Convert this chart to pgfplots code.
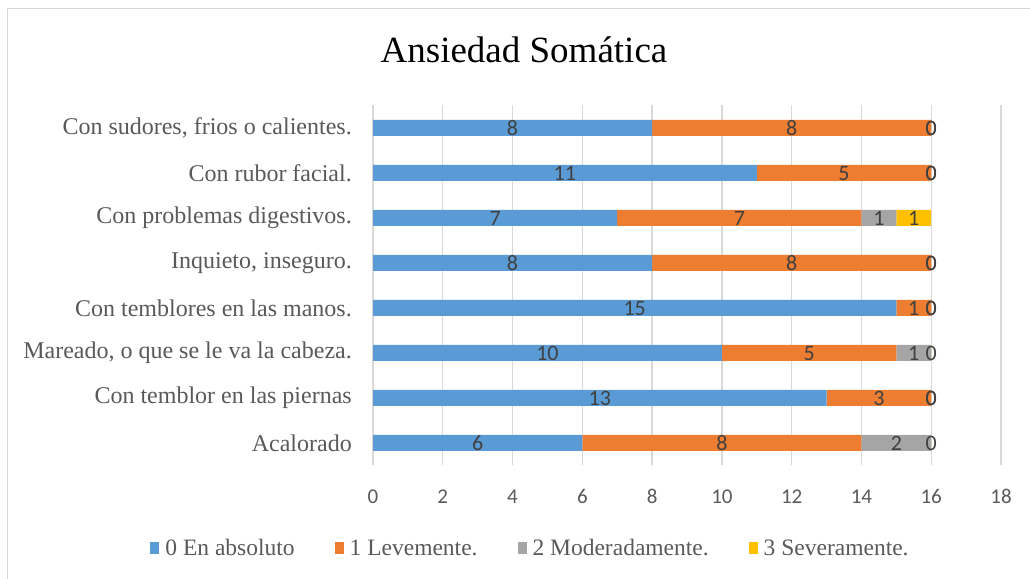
\documentclass[border=0pt]{standalone}
\usepackage{pgfplots}
\pgfplotsset{compat=1.18}
\usepackage{pgfplotstable}
\usepackage{fontspec}
\setmainfont{Liberation Serif}
\newfontfamily\calibri{Carlito}
\definecolor{cBlue}{HTML}{5B9BD5}
\definecolor{cOrange}{HTML}{ED7D31}
\definecolor{cGray}{HTML}{A5A5A5}
\definecolor{cYellow}{HTML}{FFC000}
\definecolor{gridc}{HTML}{D9D9D9}
\definecolor{txt}{HTML}{595959}
\definecolor{lbl}{HTML}{404040}

\pgfplotstableread{
y a b c d
0 6 8 2 0
1 13 3 0 0
2 10 5 1 0
3 15 1 0 0
4 8 8 0 0
5 7 7 1 1
6 11 5 0 0
7 8 8 0 0
}\data

\begin{document}
\begin{tikzpicture}[x=1bp,y=1bp]
\useasboundingbox (0,0) rectangle (1030,579);
\begin{scope}
\clip (0,0) rectangle (1030,579);
\draw[gridc, line width=1bp] (7,570) rectangle (1040,-10);
\end{scope}
\node[anchor=base, font=\fontsize{37bp}{40bp}\selectfont, text=black] at (524,516) {Ansiedad Somática};
\begin{axis}[
  at={(373bp,113.5bp)}, anchor=south west,
  scale only axis, width=628bp, height=360bp,
  xbar stacked, bar width=16bp,
  stacked ignores zero=false,
  xmin=0, xmax=18, ymin=-0.5, ymax=7.5,
  xtick={0,2,...,18},
  ytick={0,...,7},
  yticklabels={Acalorado, Con temblor en las piernas, {Mareado, o que se le va la cabeza.}, Con temblores en las manos., {Inquieto, inseguro.}, Con problemas digestivos., Con rubor facial., {Con sudores, frios o calientes.}},
  axis line style={draw=none},
  major tick length=0pt,
  xmajorgrids, major grid style={gridc, line width=1.3bp},
  /pgf/number format/assume math mode=true,
  xticklabel style={font=\calibri\fontsize{21bp}{24bp}\selectfont, text=txt, anchor=base, inner sep=0pt, yshift=-38.5bp},
  yticklabel style={font=\fontsize{24bp}{28bp}\selectfont, text=txt, anchor=east, inner sep=0pt, xshift=-21bp},
  point meta=explicit symbolic,
  nodes near coords,
  every node near coord/.append style={font=\calibri\fontsize{22bp}{24bp}\selectfont, text=lbl, anchor=center, inner sep=0pt, yshift=-0.5bp},
  legend columns=4,
  legend style={draw=none, fill=none, inner sep=0pt, at={(0.2492,-0.2292)}, anchor=center,
    font=\fontsize{23.5bp}{26bp}\selectfont, text=txt,
    nodes={inner sep=0pt},
    /tikz/every odd column/.append style={column sep=6bp},
    /tikz/every even column/.append style={column sep=40bp}},
  legend image code/.code={\fill[#1, draw=none] (0bp,-6bp) rectangle (9bp,6bp);},
]
\addplot[fill=cBlue, draw=none] table[x=a, y=y, meta=a] {\data};
\addplot[fill=cOrange, draw=none] table[x=b, y=y, meta=b] {\data};
\addplot[fill=cGray, draw=none] table[x=c, y=y, meta=c] {\data};
\addplot[fill=cYellow, draw=none] table[x=d, y=y, meta=d] {\data};
\legend{0 En absoluto, 1 Levemente., 2 Moderadamente., 3 Severamente.}
\end{axis}
\end{tikzpicture}
\end{document}
